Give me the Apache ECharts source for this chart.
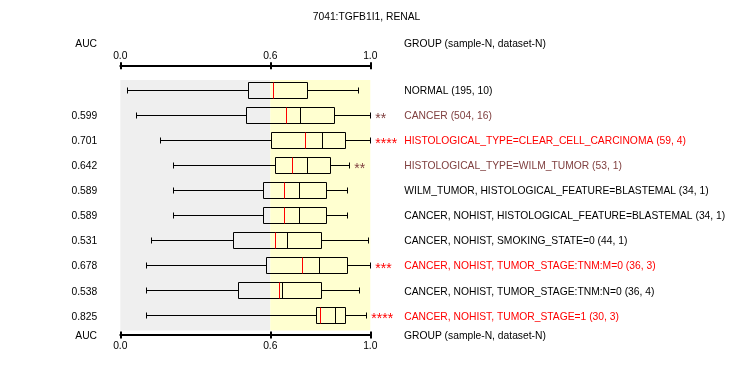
<!DOCTYPE html>
<html>
<head>
<meta charset="utf-8">
<script src="https://cdn.jsdelivr.net/npm/echarts@6.0.0/dist/echarts.min.js"></script>
<style>
html,body{margin:0;padding:0;background:#fff;}
#chart{width:733px;height:380px;}
</style>
</head>
<body>
<div id="chart"></div>
<script>
// ---- data ----
var chartTitle = '7041:TGFB1I1, RENAL';
var groups = [
  'NORMAL (195, 10)',
  'CANCER (504, 16)',
  'HISTOLOGICAL_TYPE=CLEAR_CELL_CARCINOMA (59, 4)',
  'HISTOLOGICAL_TYPE=WILM_TUMOR (53, 1)',
  'WILM_TUMOR, HISTOLOGICAL_FEATURE=BLASTEMAL (34, 1)',
  'CANCER, NOHIST, HISTOLOGICAL_FEATURE=BLASTEMAL (34, 1)',
  'CANCER, NOHIST, SMOKING_STATE=0 (44, 1)',
  'CANCER, NOHIST, TUMOR_STAGE:TNM:M=0 (36, 3)',
  'CANCER, NOHIST, TUMOR_STAGE:TNM:N=0 (36, 4)',
  'CANCER, NOHIST, TUMOR_STAGE=1 (30, 3)'
];
var aucLabels = ['', '0.599', '0.701', '0.642', '0.589', '0.589', '0.531', '0.678', '0.538', '0.825'];
var stars = ['', '**', '****', '**', '', '', '', '***', '', '****'];
var whiskerMin = [0.028, 0.064, 0.160, 0.212, 0.212, 0.212, 0.124, 0.104, 0.104, 0.104];
var q1         = [0.512, 0.504, 0.604, 0.620, 0.572, 0.572, 0.452, 0.584, 0.472, 0.784];
var median     = [0.612, 0.720, 0.808, 0.748, 0.716, 0.716, 0.668, 0.796, 0.648, 0.862];
var q3         = [0.748, 0.856, 0.900, 0.840, 0.824, 0.824, 0.804, 0.908, 0.804, 0.902];
var whiskerMax = [0.952, 1.000, 1.000, 0.916, 0.908, 0.908, 0.992, 1.000, 0.956, 0.984];
var redMark    = [0.612, 0.664, 0.740, 0.688, 0.656, 0.656, 0.620, 0.728, 0.636, 0.800];
var xTicks = [0, 0.6, 1.0];
var threshold = 0.6;

// ---- styles ----
var FONT = 'Liberation Sans, Arial, sans-serif';
var FS = 10.3;
var RED = '#ff0000', BROWN = '#804040', BLACK = '#000000';
function sigColor(s) { return !s ? BLACK : (s.length >= 3 ? RED : BROWN); }

var rows = groups.map(function (g, i) { return i; });
var seriesData = rows.map(function (i) {
  return [i, whiskerMin[i], q1[i], median[i], q3[i], whiskerMax[i], redMark[i]];
});

function crisp(v) { return Math.round(v - 0.5) + 0.5; }

function renderItem(params, api) {
  var r = api.value(0);
  var idx = params.dataIndex;
  var pMin = api.coord([api.value(1), r]);
  var pQ1 = api.coord([api.value(2), r]);
  var pMed = api.coord([api.value(3), r]);
  var pQ3 = api.coord([api.value(4), r]);
  var pMax = api.coord([api.value(5), r]);
  var pRed = api.coord([api.value(6), r]);
  var y = crisp(pMin[1]);
  var hh = 8, ch = 3;
  var ls = { stroke: '#000', lineWidth: 1, fill: null };
  var xs = function (p) { return crisp(p[0]); };
  var children = [
    { type: 'line', shape: { x1: xs(pMin), y1: y, x2: xs(pQ1), y2: y }, style: ls },
    { type: 'line', shape: { x1: xs(pQ3), y1: y, x2: xs(pMax), y2: y }, style: ls },
    { type: 'line', shape: { x1: xs(pMin), y1: y - ch, x2: xs(pMin), y2: y + ch }, style: ls },
    { type: 'line', shape: { x1: xs(pMax), y1: y - ch, x2: xs(pMax), y2: y + ch }, style: ls },
    { type: 'rect', shape: { x: xs(pQ1), y: y - hh, width: xs(pQ3) - xs(pQ1), height: hh * 2 }, style: { stroke: '#000', lineWidth: 1, fill: null } },
    { type: 'line', shape: { x1: xs(pMed), y1: y - hh, x2: xs(pMed), y2: y + hh }, style: ls },
    { type: 'line', shape: { x1: xs(pRed), y1: y - hh, x2: xs(pRed), y2: y + hh }, style: { stroke: RED, lineWidth: 1 } }
  ];
  var s = stars[idx];
  if (s) {
    children.push({
      type: 'text',
      style: {
        x: pMax[0] + 5, y: y + 3.5, text: s, fill: sigColor(s),
        font: '14px ' + FONT, textVerticalAlign: 'middle', textAlign: 'left'
      }
    });
  }
  return { type: 'group', children: children };
}

function xAxisDef(pos, offset, inside, showLabel, showLine, margin) {
  return {
    type: 'value', position: pos, offset: offset, min: 0, max: 1,
    axisLine: { show: showLine, onZero: false, lineStyle: { color: '#000', width: 2 } },
    axisTick: { show: true, inside: inside, length: 3.5, customValues: xTicks, lineStyle: { color: '#000', width: 2 } },
    axisLabel: {
      show: showLabel, customValues: xTicks, margin: margin, color: '#000',
      fontFamily: FONT, fontSize: FS,
      formatter: function (v) { return v.toFixed(1); }
    },
    splitLine: { show: false }
  };
}

var rich = {
  k: { color: BLACK, fontFamily: FONT, fontSize: FS, padding: [2, 0, 0, 0] },
  b: { color: BROWN, fontFamily: FONT, fontSize: FS, padding: [2, 0, 0, 0] },
  r: { color: RED, fontFamily: FONT, fontSize: FS, padding: [2, 0, 0, 0] }
};

function yAxisDef(pos, margin, fmt) {
  return {
    type: 'value', position: pos, inverse: true, min: -0.41, max: 9.59,
    axisLine: { show: false }, axisTick: { show: false }, splitLine: { show: false },
    axisLabel: { show: true, customValues: rows, margin: margin, formatter: fmt, rich: rich, fontFamily: FONT, fontSize: FS, color: '#000' }
  };
}

var chart = echarts.init(document.getElementById('chart'), null, { renderer: 'canvas' });
chart.setOption({
  animation: false,
  backgroundColor: '#ffffff',
  textStyle: { fontFamily: FONT },
  title: {
    text: chartTitle, left: 'center', top: 7,
    textStyle: { fontFamily: FONT, fontSize: FS, fontWeight: 'normal', color: '#000' }
  },
  grid: { left: 120.3, right: 362.7, top: 80, bottom: 49.5, containLabel: false, outerBoundsMode: 'none' },
  xAxis: [
    xAxisDef('top', 14.3, false, true, true, 5),
    xAxisDef('top', 14.3, true, false, false, 5),
    xAxisDef('bottom', 4.5, false, true, true, 6),
    xAxisDef('bottom', 4.5, true, false, false, 6)
  ],
  yAxis: [
    yAxisDef('left', 23, function (v) { return '{k|' + aucLabels[v] + '}'; }),
    yAxisDef('right', 34, function (v) { return '{' + (stars[v] ? (stars[v].length >= 3 ? 'r' : 'b') : 'k') + '|' + groups[v] + '}'; })
  ],
  graphic: [
    { type: 'text', style: { x: 97, y: 44.5, text: 'AUC', textAlign: 'right', textVerticalAlign: 'middle', font: FS + 'px ' + FONT, fill: '#000' } },
    { type: 'text', style: { x: 404, y: 44.5, text: 'GROUP (sample-N, dataset-N)', textAlign: 'left', textVerticalAlign: 'middle', font: FS + 'px ' + FONT, fill: '#000' } },
    { type: 'text', style: { x: 97, y: 336, text: 'AUC', textAlign: 'right', textVerticalAlign: 'middle', font: FS + 'px ' + FONT, fill: '#000' } },
    { type: 'text', style: { x: 404, y: 336, text: 'GROUP (sample-N, dataset-N)', textAlign: 'left', textVerticalAlign: 'middle', font: FS + 'px ' + FONT, fill: '#000' } }
  ],
  series: [{
    type: 'custom',
    xAxisIndex: 0, yAxisIndex: 0,
    renderItem: renderItem,
    encode: { x: [1, 2, 3, 4, 5, 6], y: 0 },
    data: seriesData,
    clip: false,
    markArea: {
      silent: true,
      data: [
        [{ xAxis: 0, itemStyle: { color: '#efefef' } }, { xAxis: threshold }],
        [{ xAxis: threshold, itemStyle: { color: '#ffffd0' } }, { xAxis: 1 }]
      ]
    }
  }]
});
</script>
</body>
</html>
